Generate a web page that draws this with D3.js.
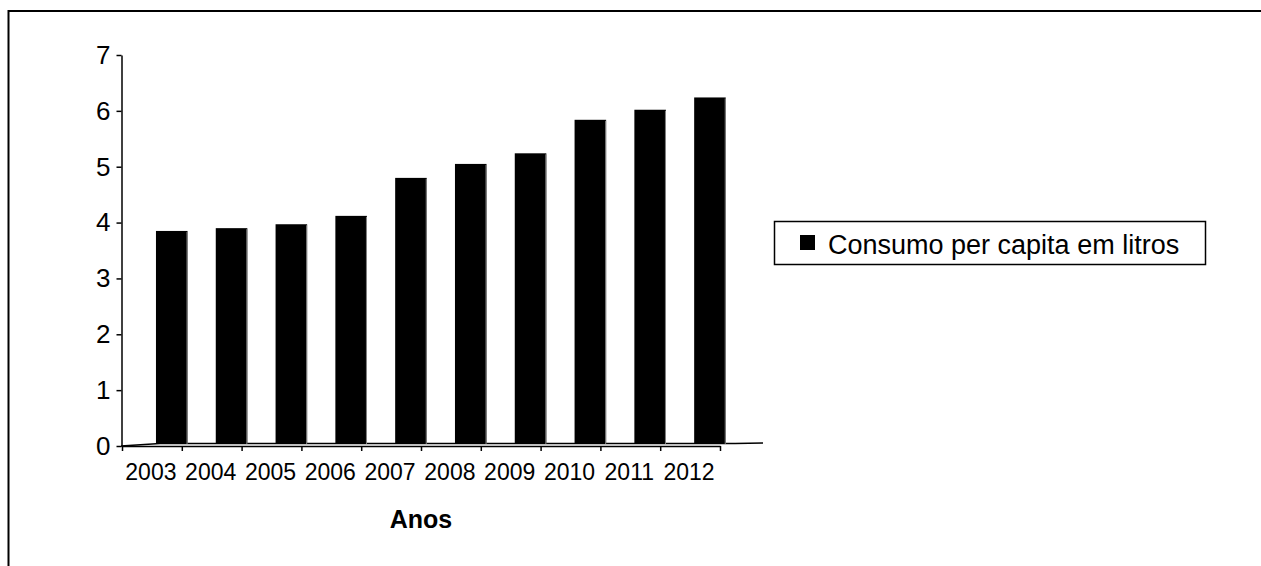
<!DOCTYPE html>
<html>
<head>
<meta charset="utf-8">
<script src="https://cdn.jsdelivr.net/npm/d3@7"></script>
<style>
  html, body { margin: 0; padding: 0; background: #fff; }
  svg { display: block; font-family: "Liberation Sans", Arial, sans-serif; }
</style>
</head>
<body>
<svg id="chart" width="1261" height="566"></svg>
<script>
const years = ["2003","2004","2005","2006","2007","2008","2009","2010","2011","2012"];
const consumo = [3.85, 3.90, 3.97, 4.12, 4.80, 5.05, 5.24, 5.84, 6.02, 6.24];
const yTicks = [0,1,2,3,4,5,6,7];
const seriesName = "Consumo per capita em litros";
const xTitle = "Anos";

const svg = d3.select("#chart");

// outer frame (extends past the window on right and bottom)
svg.append("rect")
  .attr("x", 8.5).attr("y", 11).attr("width", 1300).attr("height", 600)
  .attr("fill", "none").attr("stroke", "#000").attr("stroke-width", 2);

const x = d3.scaleBand().domain(years).range([122, 720]).paddingInner(0).paddingOuter(0);
const xi = d3.scaleLinear().domain([0, years.length]).range([122, 720]);
const y = d3.scaleLinear().domain([0, 7]).range([446, 55]);
const bw = x.bandwidth();

// floor line (slight 3D floor)
svg.append("path")
  .attr("d", d3.line()([[121, 446], [160, 443.5], [735, 443.5], [763, 443]]))
  .attr("fill", "none").attr("stroke", "#000").attr("stroke-width", 1.5);

// bars
const g = svg.append("g");
g.selectAll("rect.bar").data(years).join("rect")
  .attr("class", "bar")
  .attr("x", d => x(d) + bw * 0.568)
  .attr("width", bw * 0.528)
  .attr("y", (d, i) => y(consumo[i]))
  .attr("height", (d, i) => y(0) - 2 - y(consumo[i]))
  .attr("fill", "#000");
g.selectAll("line.edge").data(years).join("line")
  .attr("class", "edge")
  .attr("x1", d => x(d) + bw * 0.568 + bw * 0.528 - 0.5)
  .attr("x2", d => x(d) + bw * 0.568 + bw * 0.528 - 0.5)
  .attr("y1", (d, i) => y(consumo[i]) + 1)
  .attr("y2", y(0) - 2)
  .attr("stroke", "#888").attr("stroke-width", 1);

// y axis
const yAxis = svg.append("g").attr("transform", "translate(121.5,0)")
  .call(d3.axisLeft(y).tickValues(yTicks).tickFormat(d3.format("d")).tickSize(5).tickSizeOuter(0).tickPadding(6));
yAxis.select(".domain").attr("stroke", "#000").attr("stroke-width", 1.5);
yAxis.selectAll(".tick line").attr("stroke", "#000").attr("stroke-width", 1.5);
yAxis.selectAll(".tick text").attr("font-size", 26).attr("fill", "#000")
  .attr("font-family", "'Liberation Sans', Arial, sans-serif");

// x axis (ticks at category boundaries)
const xAxis = svg.append("g").attr("transform", "translate(0,446)")
  .call(d3.axisBottom(xi).tickValues(d3.range(years.length + 1)).tickFormat("").tickSize(5).tickSizeOuter(0));
xAxis.select(".domain").attr("stroke", "#000").attr("stroke-width", 1.5);
xAxis.selectAll(".tick line").attr("stroke", "#000").attr("stroke-width", 1.5);

svg.append("g").selectAll("text").data(years).join("text")
  .attr("x", d => x(d) + bw / 2 - 1)
  .attr("y", 480)
  .attr("text-anchor", "middle")
  .attr("font-size", 23)
  .attr("fill", "#000")
  .text(d => d);

svg.append("text")
  .attr("x", 421).attr("y", 528)
  .attr("text-anchor", "middle")
  .attr("font-size", 25).attr("font-weight", "bold")
  .attr("fill", "#000")
  .text(xTitle);

// legend
const lg = svg.append("g");
lg.append("rect").attr("x", 774.5).attr("y", 221.5).attr("width", 431).attr("height", 43)
  .attr("fill", "#fff").attr("stroke", "#000").attr("stroke-width", 1.5);
lg.append("rect").attr("x", 800).attr("y", 235).attr("width", 15).attr("height", 15).attr("fill", "#000");
lg.append("text").attr("x", 828).attr("y", 254)
  .attr("font-size", 27).attr("fill", "#000").text(seriesName);
</script>
</body>
</html>
